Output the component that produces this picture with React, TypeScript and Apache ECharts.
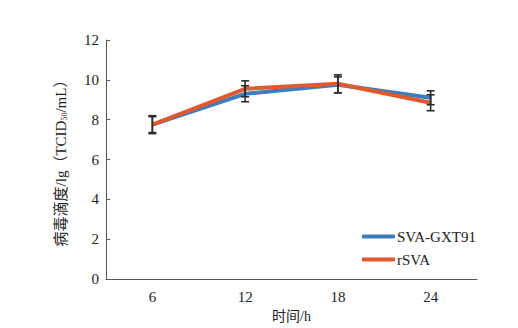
import React, { useEffect, useRef } from "react";
import * as echarts from "echarts";

const categories = ["6", "12", "18", "24"];
const svaGxt91 = [7.75, 9.3, 9.75, 9.1];
const svaGxt91Err = [0.4, 0.4, 0.4, 0.35];
const rSva = [7.75, 9.55, 9.8, 8.85];
const rSvaErr = [0.45, 0.4, 0.45, 0.4];
const yTicks = [0, 2, 4, 6, 8, 10, 12];

const FONT = "'Liberation Serif', 'Times New Roman', 'Noto Sans CJK SC', serif";

function errorSeries(name: string, vals: number[], errs: number[]) {
  const data = vals.map((v, i) => [i, v - errs[i], v + errs[i]]);
  return {
    type: "custom",
    name: name + "-err",
    data,
    z: 5,
    silent: true,
    renderItem: (params: any, api: any) => {
      const x = api.value(0);
      const lo = api.coord([x, api.value(1)]);
      const hi = api.coord([x, api.value(2)]);
      const w = 4;
      const style = { stroke: "#2b2b2b", lineWidth: 1.6 };
      return {
        type: "group",
        children: [
          { type: "line", shape: { x1: lo[0], y1: lo[1], x2: hi[0], y2: hi[1] }, style },
          { type: "line", shape: { x1: lo[0] - w, y1: lo[1], x2: lo[0] + w, y2: lo[1] }, style },
          { type: "line", shape: { x1: hi[0] - w, y1: hi[1], x2: hi[0] + w, y2: hi[1] }, style },
        ],
      };
    },
  };
}

export default function App() {
  const ref = useRef<HTMLDivElement>(null);
  useEffect(() => {
    const chart = echarts.init(ref.current!, null, { renderer: "svg" });
    chart.setOption({
      animation: false,
      backgroundColor: "#fff",
      grid: { left: 106, right: 41, top: 40, bottom: 45 },
      legend: {
        left: 357,
        top: 224,
        orient: "vertical",
        itemWidth: 33,
        itemHeight: 4,
        itemGap: 8,
        icon: "roundRect",
        textStyle: { fontFamily: FONT, fontSize: 15, color: "#222", padding: [0, 0, 0, -3] },
        data: ["SVA-GXT91", "rSVA"],
      },
      xAxis: {
        type: "category",
        data: categories,
        boundaryGap: true,
        name: "时间/h",
        nameLocation: "middle",
        nameGap: 30,
        nameTextStyle: { fontFamily: FONT, fontSize: 14, color: "#222" },
        axisLine: { lineStyle: { color: "#555", width: 1 } },
        axisTick: { inside: true, length: 4, lineStyle: { color: "#555" } },
        axisLabel: { fontFamily: FONT, fontSize: 15, color: "#222", margin: 10 },
      },
      yAxis: {
        type: "value",
        min: 0,
        max: 12,
        interval: 2,
        name: "{a|病毒滴度/lg（TCID}{s|50}{a|/mL）}",
        nameLocation: "middle",
        nameGap: 38,
        nameTextStyle: {
          rich: {
            a: { fontFamily: FONT, fontSize: 15, color: "#222" },
            s: { fontFamily: FONT, fontSize: 8, color: "#222", verticalAlign: "bottom", padding: [6, 0, 0, 0] },
          },
        },
        axisLine: { show: true, lineStyle: { color: "#555", width: 1 } },
        axisTick: { show: true, inside: true, length: 4, lineStyle: { color: "#555" } },
        splitLine: { show: false },
        axisLabel: {
          fontFamily: FONT,
          fontSize: 15,
          color: "#222",
          margin: 7,
          formatter: (v: number) => (yTicks.includes(v) ? String(v) : ""),
        },
      },
      series: [
        {
          name: "SVA-GXT91",
          type: "line",
          data: svaGxt91,
          symbol: "none",
          lineStyle: { width: 4, color: "#3b7dbd" },
          itemStyle: { color: "#3b7dbd" },
          z: 3,
        },
        {
          name: "rSVA",
          type: "line",
          data: rSva,
          symbol: "none",
          lineStyle: { width: 4, color: "#e0592f" },
          itemStyle: { color: "#e0592f" },
          z: 4,
        },
        errorSeries("SVA-GXT91", svaGxt91, svaGxt91Err),
        errorSeries("rSVA", rSva, rSvaErr),
      ],
    });
    return () => chart.dispose();
  }, []);
  return (
    <div
      ref={ref}
      style={{ position: "absolute", left: 0, top: 0, width: 518, height: 328 }}
    />
  );
}
